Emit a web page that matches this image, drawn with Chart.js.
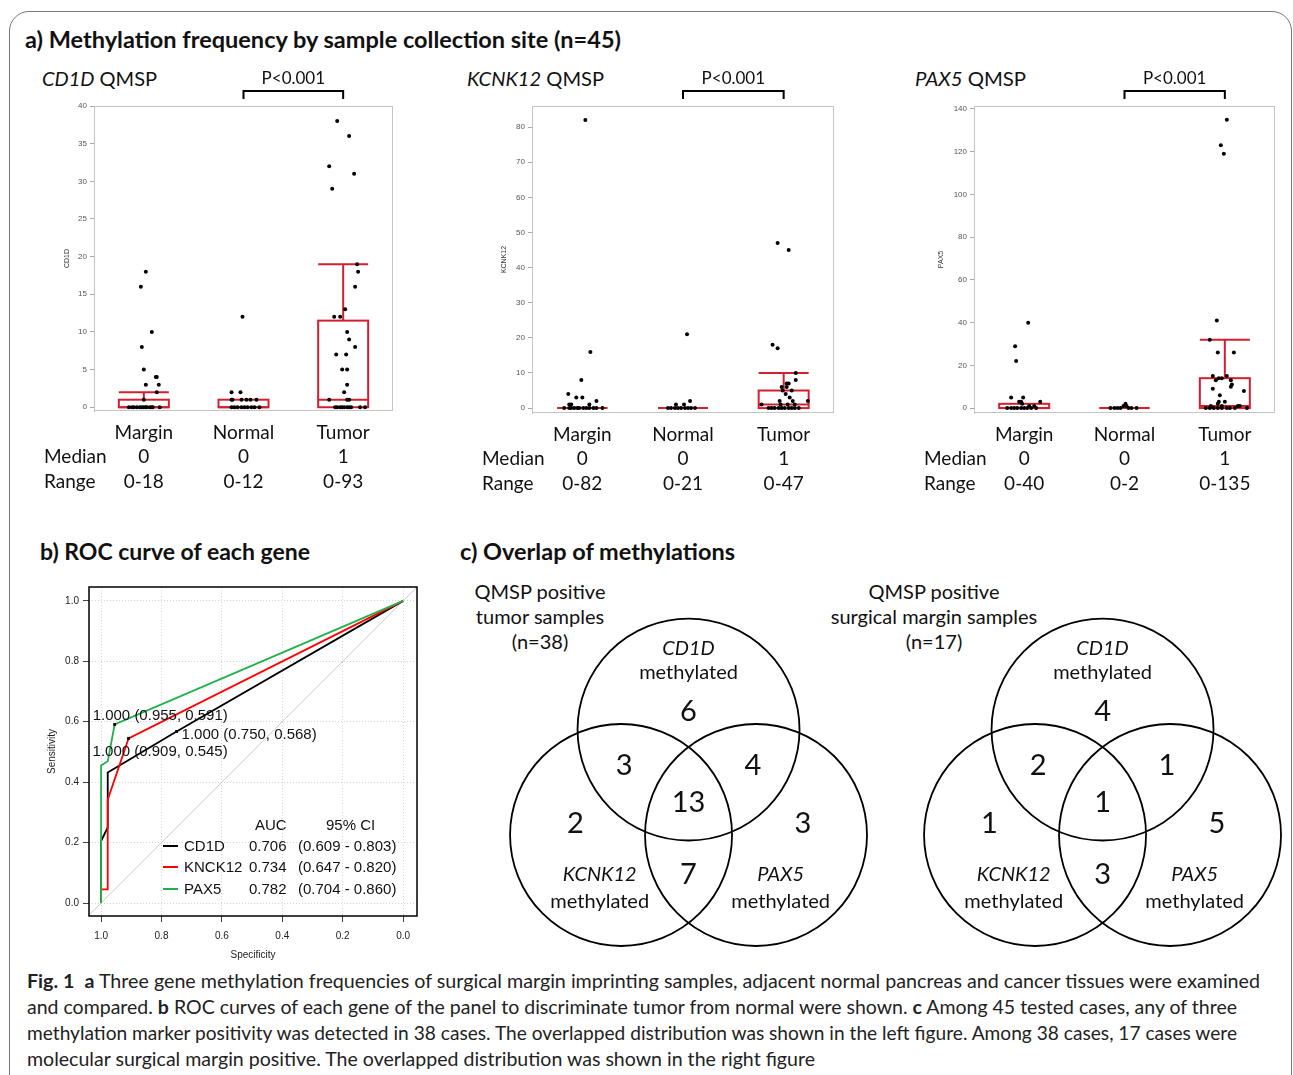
<!DOCTYPE html>
<html>
<head>
<meta charset="utf-8">
<script src="https://cdn.jsdelivr.net/npm/chart.js@4.4.1/dist/chart.umd.min.js"></script>
<style>
  body { margin: 0; background: #fff; width: 1293px; height: 1075px; overflow: hidden; position: relative;
         font-family: Lato, "Open Sans", sans-serif; color: #111; }
  .t { position: absolute; white-space: nowrap; line-height: 1; transform-origin: left center; }
  .b { font-weight: bold; }
  .mid { position: absolute; white-space: nowrap; text-align: center; transform: translate(-50%, -50%); }
  .leg { position: absolute; white-space: nowrap; line-height: 1; font-family: "Liberation Sans", Arial, sans-serif; font-size: 15px; }
  .sw { position: absolute; width: 15px; height: 2px; }
  canvas { position: absolute; }
  #frame { position: absolute; left: 9px; top: 11px; width: 1281px; height: 1100px; border: 1.5px solid #777; border-radius: 20px; }
</style>
</head>
<body>
<div id="frame"></div>

<div class="t b" style="left:25px;top:28px;font-size:23px" data-w="596">a) Methylation frequency by sample collection site (n=45)</div>
<div class="t" style="left:42px;top:68px;font-size:20px" data-w="115"><i>CD1D</i> QMSP</div>
<div class="t" style="left:467px;top:68px;font-size:20px" data-w="137"><i>KCNK12</i> QMSP</div>
<div class="t" style="left:915px;top:68px;font-size:20px" data-w="111"><i>PAX5</i> QMSP</div>

<div class="t b" style="left:40px;top:541px;font-size:22px" data-w="270">b) ROC curve of each gene</div>
<div class="t b" style="left:460px;top:541px;font-size:22px" data-w="275">c) Overlap of methylations</div>

<div class="mid" style="left:540px;top:616px;font-size:20px;line-height:25px">QMSP positive<br>tumor samples<br>(n=38)</div>
<div class="mid" style="left:934px;top:616px;font-size:20px;line-height:25px">QMSP positive<br>surgical margin samples<br>(n=17)</div>

<canvas id="boxCd1d" width="371" height="440" style="left:30px;top:60px"></canvas>
<canvas id="boxKcnk12" width="374" height="440" style="left:468px;top:60px"></canvas>
<canvas id="boxPax5" width="373" height="440" style="left:910px;top:60px"></canvas>
<canvas id="roc" width="383" height="388" style="left:42px;top:577px"></canvas>
<canvas id="venn" width="833" height="375" style="left:460px;top:575px"></canvas>

<!-- ROC legend -->
<div class="leg" style="left:255px;top:817px">AUC</div>
<div class="leg" style="left:326px;top:817px">95% CI</div>
<div class="sw" style="left:163px;top:845px;background:#000"></div>
<div class="sw" style="left:163px;top:866px;background:#ff0000"></div>
<div class="sw" style="left:163px;top:888px;background:#1fb14c"></div>
<div class="leg" style="left:184px;top:838px">CD1D</div>
<div class="leg" style="left:184px;top:859px">KNCK12</div>
<div class="leg" style="left:184px;top:881px">PAX5</div>
<div class="leg" style="left:249px;top:838px">0.706</div>
<div class="leg" style="left:249px;top:859px">0.734</div>
<div class="leg" style="left:249px;top:881px">0.782</div>
<div class="leg" style="left:298px;top:838px">(0.609 - 0.803)</div>
<div class="leg" style="left:298px;top:859px">(0.647 - 0.820)</div>
<div class="leg" style="left:298px;top:881px">(0.704 - 0.860)</div>

<!-- caption -->
<div class="t" style="left:27px;top:971px;font-size:19px;color:#222" data-w="1233"><b>Fig. 1</b>&nbsp; <b>a</b> Three gene methylation frequencies of surgical margin imprinting samples, adjacent normal pancreas and cancer tissues were examined</div>
<div class="t" style="left:27px;top:997px;font-size:19px;color:#222" data-w="1210">and compared. <b>b</b> ROC curves of each gene of the panel to discriminate tumor from normal were shown. <b>c</b> Among 45 tested cases, any of three</div>
<div class="t" style="left:27px;top:1023px;font-size:19px;color:#222" data-w="1210">methylation marker positivity was detected in 38 cases. The overlapped distribution was shown in the left figure. Among 38 cases, 17 cases were</div>
<div class="t" style="left:27px;top:1049px;font-size:19px;color:#222" data-w="788">molecular surgical margin positive. The overlapped distribution was shown in the right figure</div>

<script>
// ---- panel a: box plots ----
const groups = ['Margin', 'Normal', 'Tumor'];

// CD1D values (jitter arrays = horizontal spread of the dots)
const cd1dMargin = [18, 16, 10, 8, 5, 4, 4, 3, 3, 2, 1, 0, 0, 0, 0, 0, 0, 0, 0, 0, 0, 0, 0, 0];
const cd1dMarginJit = [0.02, -0.03, 0.08, -0.02, 0, 0.12, 0.13, 0.02, 0.15, 0.13, 0, -0.15, -0.12, -0.10, -0.07, -0.04, -0.02, 0, 0.02, 0.03, 0.06, 0.08, 0.09, 0.16];
const cd1dNormal = [12, 2, 2, 1, 1, 1, 1, 1, 1, 0, 0, 0, 0, 0, 0, 0, 0, 0];
const cd1dNormalJit = [-0.01, -0.12, -0.03, -0.12, -0.11, -0.02, 0.03, 0.07, 0.13, -0.12, -0.09, -0.06, -0.02, 0.01, 0.04, 0.08, 0.11, 0.16];
const cd1dTumor = [38, 36, 32, 31, 29, 19, 18, 16, 13, 12, 12, 10, 9, 8, 7, 7, 5, 5, 3, 2, 1, 1, 1, 0, 0, 0, 0, 0, 0, 0, 0, 0, 0];
const cd1dTumorJit = [-0.06, 0.06, -0.14, 0.11, -0.11, 0.14, 0.15, 0.12, 0.02, -0.09, -0.03, 0.04, 0.06, 0.12, -0.07, 0.03, -0.01, 0.04, 0.04, 0.01, -0.14, 0.04, 0.06, -0.08, -0.06, -0.03, -0.01, 0.01, 0.04, 0.06, 0.08, 0.17, 0.22];
const cd1dQ3 = [1, 1, 11.5];
const cd1dMed = [0, 0, 1];
const cd1dWhisk = [2, 1, 19];
const cd1dMedianTxt = ['0', '0', '1'];
const cd1dRangeTxt = ['0-18', '0-12', '0-93'];
const cd1dTicks = [0, 5, 10, 15, 20, 25, 30, 35, 40];

// KCNK12 values
const kcnk12Margin = [82, 16, 8, 4, 3, 3, 2, 1, 1, 1, 0, 0, 0, 0, 0, 0, 0, 0, 0, 0, 0, 0];
const kcnk12MarginJit = [0.03, 0.08, -0.01, -0.14, -0.06, 0, 0.14, -0.13, -0.11, 0.07, -0.18, -0.13, -0.11, -0.08, -0.05, -0.03, 0.01, 0.04, 0.07, 0.11, 0.14, 0.20];
const kcnk12Normal = [21, 2, 1, 1, 0, 0, 0, 0, 0, 0, 0, 0, 0];
const kcnk12NormalJit = [0.04, 0.07, -0.07, 0.01, -0.15, -0.12, -0.08, -0.05, -0.02, 0.02, 0.05, 0.08, 0.12];
const kcnk12Tumor = [47, 45, 18, 17, 10, 8, 7, 7, 6, 6, 5, 5, 4, 3, 2, 2, 2, 1, 1, 1, 1, 0, 0, 0, 0, 0, 0, 0, 0, 0, 0];
const kcnk12TumorJit = [-0.06, 0.05, -0.11, -0.06, 0.12, 0.12, 0.03, 0.05, -0.02, 0.03, -0.01, 0.08, 0.02, 0.06, -0.04, 0.09, 0.24, -0.22, -0.03, 0.04, 0.11, -0.15, -0.12, -0.09, -0.05, -0.02, 0.01, 0.05, 0.08, 0.11, 0.15];
const kcnk12Q3 = [0, 0, 5];
const kcnk12Med = [0, 0, 1];
const kcnk12Whisk = [0, 0, 10];
const kcnk12MedianTxt = ['0', '0', '1'];
const kcnk12RangeTxt = ['0-82', '0-21', '0-47'];
const kcnk12Ticks = [0, 10, 20, 30, 40, 50, 60, 70, 80];

// PAX5 values
const pax5Margin = [40, 29, 22, 5, 5, 3, 3, 3, 2, 1, 1, 0, 0, 0, 0, 0, 0, 0, 0, 0];
const pax5MarginJit = [0.04, -0.09, -0.08, -0.13, -0.01, -0.05, -0.03, 0.16, -0.02, 0.05, 0.10, -0.17, -0.13, -0.10, -0.07, -0.03, 0, 0.03, 0.07, 0.12];
const pax5Normal = [2, 1, 1, 0, 0, 0, 0, 0, 0, 0];
const pax5NormalJit = [0.01, -0.01, 0.02, -0.14, -0.10, -0.07, -0.04, 0.04, 0.07, 0.12];
const pax5Tumor = [135, 123, 119, 41, 32, 26, 26, 15, 15, 14, 14, 13, 13, 11, 10, 9, 8, 6, 3, 3, 2, 1, 1, 1, 1, 0, 0, 0, 0, 0, 0, 0, 0, 0];
const pax5TumorJit = [0.02, -0.04, -0.01, -0.08, -0.15, -0.07, 0.09, -0.12, 0.02, -0.06, -0.03, -0.09, 0.06, 0.07, 0.06, -0.12, 0.19, -0.05, -0.06, 0, -0.07, -0.14, -0.03, 0.13, 0.15, -0.19, -0.15, -0.11, -0.07, -0.03, 0.02, 0.05, 0.10, 0.22];
const pax5Q3 = [2, 0, 14];
const pax5Med = [0, 0, 1];
const pax5Whisk = [2, 0, 32];
const pax5MedianTxt = ['0', '0', '1'];
const pax5RangeTxt = ['0-40', '0-2', '0-135'];
const pax5Ticks = [0, 20, 40, 60, 80, 100, 120, 140];

// ---- panel b: ROC curves (specificity, sensitivity) ----
const rocTicks = [0, 0.2, 0.4, 0.6, 0.8, 1.0];
const cd1dSpec = [1, 1, 0.978, 0.978, 0.75, 0];
const cd1dSens = [0, 0.205, 0.25, 0.432, 0.568, 1];
const kcnk12Spec = [1, 1, 0.978, 0.978, 0.909, 0];
const kcnk12Sens = [0, 0.045, 0.045, 0.342, 0.545, 1];
const pax5Spec = [1, 1, 0.978, 0.955, 0];
const pax5Sens = [0, 0.455, 0.469, 0.591, 1];
const thrSpec = [0.955, 0.75, 0.909];
const thrSens = [0.591, 0.568, 0.545];
const thrText = ['1.000 (0.955, 0.591)', '1.000 (0.750, 0.568)', '1.000 (0.909, 0.545)'];

// ---- panel c: Venn counts ----
const vennRegions = ['CD1D', 'CD1D+KCNK12', 'CD1D+PAX5', 'all', 'KCNK12', 'PAX5', 'KCNK12+PAX5'];
const tumorCounts = [6, 3, 4, 13, 2, 3, 7];
const marginCounts = [4, 2, 1, 1, 1, 5, 3];

const RED = 'rgb(211,32,48)';

function ptsOf(lists, jits) {
  var out = [];
  lists.forEach(function (vals, g) {
    vals.forEach(function (v, i) { out.push({ x: g + jits[g][i], y: v }); });
  });
  return out;
}

// box, whiskers, frame, bracket and table under the plot
var boxPlugin = {
  id: 'boxes',
  beforeDatasetsDraw: function (chart) {
    var o = chart.options.plugins.boxes;
    var xs = chart.scales.x, ys = chart.scales.y, a = chart.chartArea, c = chart.ctx;
    c.save();
    c.strokeStyle = '#c4c4c4';
    c.lineWidth = 1;
    c.strokeRect(a.left + 0.5, a.top + 0.5, a.right - a.left - 1, a.bottom - a.top - 1);
    c.strokeStyle = RED;
    c.lineWidth = 2;
    for (var i = 0; i < groups.length; i++) {
      var cx = xs.getPixelForValue(i), hw = 25;
      var y0 = ys.getPixelForValue(0), y3 = ys.getPixelForValue(o.q3[i]);
      var ym = ys.getPixelForValue(o.med[i]), yw = ys.getPixelForValue(o.whisk[i]);
      c.strokeRect(cx - hw, y3, hw * 2, y0 - y3);
      c.beginPath();
      c.moveTo(cx - hw, ym); c.lineTo(cx + hw, ym);
      if (o.whisk[i] > o.q3[i]) {
        c.moveTo(cx, y3); c.lineTo(cx, yw);
        c.moveTo(cx - hw, yw); c.lineTo(cx + hw, yw);
      }
      c.stroke();
    }
    c.restore();
  },
  afterDraw: function (chart) {
    var o = chart.options.plugins.boxes;
    var xs = chart.scales.x, a = chart.chartArea, c = chart.ctx;
    var x1 = xs.getPixelForValue(1), x2 = xs.getPixelForValue(2);
    c.save();
    c.strokeStyle = '#000';
    c.lineWidth = 2;
    c.beginPath();
    c.moveTo(x1, a.top - 7); c.lineTo(x1, a.top - 15); c.lineTo(x2, a.top - 15); c.lineTo(x2, a.top - 7);
    c.stroke();
    c.fillStyle = '#111';
    c.textAlign = 'center';
    c.textBaseline = 'middle';
    c.font = '17px Lato, "Open Sans", sans-serif';
    c.fillText('P<0.001', (x1 + x2) / 2, a.top - 27);
    c.font = '19px Lato, "Open Sans", sans-serif';
    for (var i = 0; i < groups.length; i++) {
      var cx = xs.getPixelForValue(i);
      c.fillText(groups[i], cx, a.bottom + 22);
      c.fillText(o.medTxt[i], cx, a.bottom + 46);
      c.fillText(o.rangeTxt[i], cx, a.bottom + 71);
    }
    c.textAlign = 'left';
    c.fillText('Median', a.left - 50, a.bottom + 46);
    c.fillText('Range', a.left - 50, a.bottom + 71);
    c.restore();
  }
};

function makeBox(id, lists, jits, st, yMin, yMax, ticks, title, titlePad, padBottom) {
  return new Chart(document.getElementById(id), {
    type: 'scatter',
    data: {
      datasets: [{
        data: ptsOf(lists, jits),
        pointRadius: 2,
        pointBackgroundColor: '#000',
        pointBorderWidth: 0
      }]
    },
    options: {
      responsive: false,
      animation: false,
      events: [],
      devicePixelRatio: 1,
      layout: { padding: { top: 46, right: 8, bottom: padBottom, left: 0 } },
      plugins: {
        legend: { display: false },
        tooltip: { enabled: false },
        boxes: st
      },
      scales: {
        x: { type: 'linear', min: -0.5, max: 2.5, display: false },
        y: {
          min: yMin, max: yMax,
          afterBuildTicks: function (s) { s.ticks = ticks.map(function (v) { return { value: v }; }); },
          afterFit: function (s) { s.width = 64; },
          ticks: { font: { size: 8, family: '"Liberation Sans", Arial' }, color: '#555', padding: 3 },
          grid: { drawOnChartArea: false, tickLength: 4, color: '#aaa' },
          border: { color: '#c4c4c4' },
          title: { display: true, text: title, font: { size: 7, family: '"Liberation Sans", Arial' }, color: '#333', padding: { top: titlePad, bottom: 0 } }
        }
      }
    },
    plugins: [boxPlugin]
  });
}

makeBox('boxCd1d', [cd1dMargin, cd1dNormal, cd1dTumor], [cd1dMarginJit, cd1dNormalJit, cd1dTumorJit],
  { q3: cd1dQ3, med: cd1dMed, whisk: cd1dWhisk, medTxt: cd1dMedianTxt, rangeTxt: cd1dRangeTxt },
  -0.5, 40, cd1dTicks, 'CD1D', 33, 89);
makeBox('boxKcnk12', [kcnk12Margin, kcnk12Normal, kcnk12Tumor], [kcnk12MarginJit, kcnk12NormalJit, kcnk12TumorJit],
  { q3: kcnk12Q3, med: kcnk12Med, whisk: kcnk12Whisk, medTxt: kcnk12MedianTxt, rangeTxt: kcnk12RangeTxt },
  -1.4, 86, kcnk12Ticks, 'KCNK12', 32, 87);
makeBox('boxPax5', [pax5Margin, pax5Normal, pax5Tumor], [pax5MarginJit, pax5NormalJit, pax5TumorJit],
  { q3: pax5Q3, med: pax5Med, whisk: pax5Whisk, medTxt: pax5MedianTxt, rangeTxt: pax5RangeTxt },
  -2.3, 141.4, pax5Ticks, 'PAX5', 27, 87);

// ---- ROC chart ----
function curve(sx, sy) { return sx.map(function (v, i) { return { x: v, y: sy[i] }; }); }

var rocPlugin = {
  id: 'rocExtra',
  afterDraw: function (chart) {
    var xs = chart.scales.x, ys = chart.scales.y, a = chart.chartArea, c = chart.ctx;
    var offs = [[-22, -9], [5, 3], [-36, 14]];
    c.save();
    c.strokeStyle = '#000';
    c.lineWidth = 1.5;
    c.strokeRect(a.left, a.top, a.right - a.left, a.bottom - a.top);
    c.fillStyle = '#111';
    c.font = '15px "Liberation Sans", Arial, sans-serif';
    c.textBaseline = 'middle';
    for (var i = 0; i < thrText.length; i++) {
      c.fillText(thrText[i], xs.getPixelForValue(thrSpec[i]) + offs[i][0], ys.getPixelForValue(thrSens[i]) + offs[i][1]);
    }
    c.restore();
  }
};

new Chart(document.getElementById('roc'), {
  type: 'scatter',
  data: {
    datasets: [
      { data: [{ x: 1.04, y: -0.04 }, { x: -0.046, y: 1.046 }], showLine: true, borderColor: '#cfcfcf', borderWidth: 1, pointRadius: 0, order: 5 },
      { data: curve(cd1dSpec, cd1dSens), showLine: true, borderColor: '#000', borderWidth: 1.8, pointRadius: 0, order: 3 },
      { data: curve(kcnk12Spec, kcnk12Sens), showLine: true, borderColor: '#ff0000', borderWidth: 1.8, pointRadius: 0, order: 2 },
      { data: curve(pax5Spec, pax5Sens), showLine: true, borderColor: '#1fb14c', borderWidth: 1.8, pointRadius: 0, order: 1 },
      { data: curve(thrSpec, thrSens), pointStyle: 'rect', pointRadius: 2, pointBackgroundColor: '#000', pointBorderWidth: 0, order: 0 }
    ]
  },
  options: {
    responsive: false,
    animation: false,
    events: [],
    devicePixelRatio: 1,
    layout: { padding: { top: 10, right: 8, bottom: 0, left: 0 } },
    plugins: { legend: { display: false }, tooltip: { enabled: false } },
    scales: {
      x: {
        type: 'linear', reverse: true, min: -0.046, max: 1.04,
        afterBuildTicks: function (s) { s.ticks = rocTicks.map(function (v) { return { value: v }; }); },
        afterFit: function (s) { s.height = 49; },
        ticks: { callback: function (v) { return v.toFixed(1); }, font: { size: 10, family: '"Liberation Sans", Arial' }, color: '#222', padding: 8, maxRotation: 0 },
        grid: { color: '#d6d6d6', tickLength: 6, tickColor: '#444', tickBorderDash: [] },
        border: { display: false, dash: [1, 2] },
        title: { display: true, text: 'Specificity', font: { size: 10, family: '"Liberation Sans", Arial' }, color: '#222' }
      },
      y: {
        min: -0.043, max: 1.046,
        afterBuildTicks: function (s) { s.ticks = rocTicks.map(function (v) { return { value: v }; }); },
        afterFit: function (s) { s.width = 47; },
        ticks: { callback: function (v) { return v.toFixed(1); }, font: { size: 10, family: '"Liberation Sans", Arial' }, color: '#222', padding: 4 },
        grid: { color: '#d6d6d6', tickLength: 6, tickColor: '#444', tickBorderDash: [] },
        border: { display: false, dash: [1, 2] },
        title: { display: true, text: 'Sensitivity', font: { size: 10, family: '"Liberation Sans", Arial' }, color: '#222' }
      }
    }
  },
  plugins: [rocPlugin]
});

// ---- Venn diagrams ----
// circle centres in radius units: CD1D on top, KCNK12 left, PAX5 right
const vennCircles = [[0, 0.95], [-0.608, 0], [0.608, 0]];
const vennShift = [0, 3.73];
const vennRegionPos = [[0, 1.108], [-0.58, 0.622], [0.58, 0.622], [0, 0.288], [-1.02, 0.099], [1.03, 0.099], [0, -0.36]];

var vennPlugin = {
  id: 'vennText',
  afterDatasetsDraw: function (chart) {
    var xs = chart.scales.x, ys = chart.scales.y, c = chart.ctx;
    var counts = [tumorCounts, marginCounts];
    var fam = 'Lato, "Open Sans", sans-serif';
    c.save();
    c.fillStyle = '#111';
    c.textAlign = 'center';
    c.textBaseline = 'middle';
    vennShift.forEach(function (dx, d) {
      c.font = '29px ' + fam;
      vennRegions.forEach(function (r, i) {
        c.fillText(String(counts[d][i]), xs.getPixelForValue(dx + vennRegionPos[i][0]), ys.getPixelForValue(vennRegionPos[i][1]));
      });
      var sets = [['CD1D', 0, 1.676, 1.46], ['KCNK12', -0.8, -0.36, -0.604], ['PAX5', 0.83, -0.36, -0.604]];
      sets.forEach(function (s) {
        var px = xs.getPixelForValue(dx + s[1]);
        c.font = 'italic 20px ' + fam;
        c.fillText(s[0], px, ys.getPixelForValue(s[2]));
        c.font = '20px ' + fam;
        c.fillText('methylated', px, ys.getPixelForValue(s[3]));
      });
    });
    c.restore();
  }
};

function circleRadius(ctx) {
  var s = ctx.chart.scales.x;
  return Math.abs(s.getPixelForValue(1) - s.getPixelForValue(0));
}

new Chart(document.getElementById('venn'), {
  type: 'scatter',
  data: {
    datasets: vennShift.map(function (dx) {
      return {
        data: vennCircles.map(function (p) { return { x: p[0] + dx, y: p[1] }; }),
        pointRadius: circleRadius,
        pointBackgroundColor: 'rgba(0,0,0,0)',
        pointBorderColor: '#000',
        pointBorderWidth: 1.8,
        clip: false
      };
    })
  },
  options: {
    responsive: false,
    animation: false,
    events: [],
    devicePixelRatio: 1,
    layout: { padding: 0 },
    plugins: { legend: { display: false }, tooltip: { enabled: false } },
    scales: {
      x: { type: 'linear', min: -2.059, max: 5.446, display: false },
      y: { type: 'linear', min: -1.036, max: 2.342, display: false }
    }
  },
  plugins: [vennPlugin]
});

// squeeze or stretch text lines to the widths measured on the reference
document.querySelectorAll('[data-w]').forEach(function (el) {
  var w = el.getBoundingClientRect().width;
  el.style.transform = 'scaleX(' + (parseFloat(el.dataset.w) / w) + ')';
});
</script>
</body>
</html>
